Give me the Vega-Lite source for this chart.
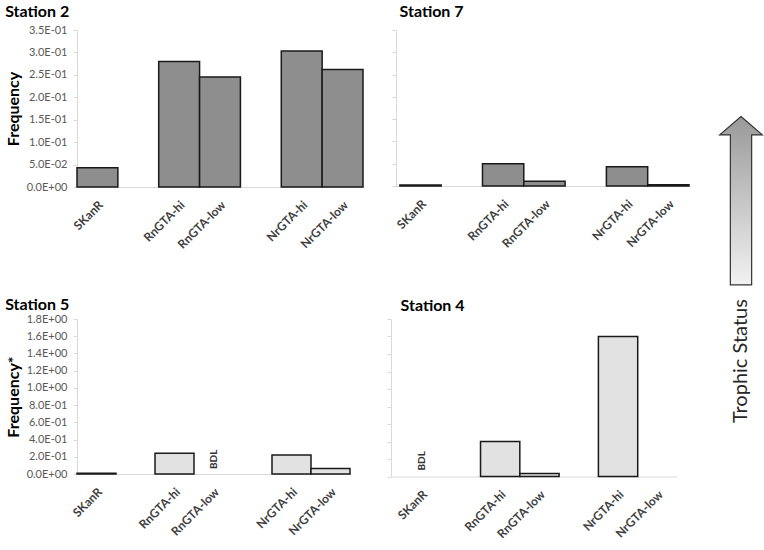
{
  "$schema": "https://vega.github.io/schema/vega-lite/v6.json",
  "padding": {"left": 5, "top": 3, "right": 0, "bottom": 0},
  "background": "white",
  "config": {
    "font": "Lato",
    "view": {"stroke": null},
    "axis": {"grid": false},
    "axisY": {"labelFontSize": 11, "labelColor": "#595959", "labelOverlap": false, "domainColor": "#d9d9d9", "tickColor": "#d9d9d9", "tickSize": 4, "labelPadding": 6, "titleFontSize": 16, "titleFontWeight": "bold", "titleColor": "#000000", "titlePadding": 5},
    "axisX": {"labelAngle": -45, "labelFontSize": 12, "labelFontWeight": "bold", "labelColor": "#404040", "labelOverlap": false, "ticks": false, "tickSize": 0, "domainColor": "#d9d9d9", "labelPadding": 12, "title": null},
    "title": {"fontSize": 16, "fontWeight": "bold", "color": "#000000", "anchor": "start"}
  },
  "datasets": {
    "freq": [
      {"station": "Station 2", "gene": "SKanR", "value": 0.043, "note": null},
      {"station": "Station 2", "gene": "RnGTA-hi", "value": 0.28, "note": null},
      {"station": "Station 2", "gene": "RnGTA-low", "value": 0.245, "note": null},
      {"station": "Station 2", "gene": "NrGTA-hi", "value": 0.303, "note": null},
      {"station": "Station 2", "gene": "NrGTA-low", "value": 0.262, "note": null},
      {"station": "Station 7", "gene": "SKanR", "value": 0.002, "note": null},
      {"station": "Station 7", "gene": "RnGTA-hi", "value": 0.05, "note": null},
      {"station": "Station 7", "gene": "RnGTA-low", "value": 0.0105, "note": null},
      {"station": "Station 7", "gene": "NrGTA-hi", "value": 0.043, "note": null},
      {"station": "Station 7", "gene": "NrGTA-low", "value": 0.003, "note": null},
      {"station": "Station 5", "gene": "SKanR", "value": 0.01, "note": null},
      {"station": "Station 5", "gene": "RnGTA-hi", "value": 0.24, "note": null},
      {"station": "Station 5", "gene": "RnGTA-low", "value": null, "note": "BDL"},
      {"station": "Station 5", "gene": "NrGTA-hi", "value": 0.22, "note": null},
      {"station": "Station 5", "gene": "NrGTA-low", "value": 0.065, "note": null},
      {"station": "Station 4", "gene": "SKanR", "value": null, "note": "BDL"},
      {"station": "Station 4", "gene": "RnGTA-hi", "value": 0.4, "note": null},
      {"station": "Station 4", "gene": "RnGTA-low", "value": 0.034, "note": null},
      {"station": "Station 4", "gene": "NrGTA-hi", "value": 1.6, "note": null},
      {"station": "Station 4", "gene": "NrGTA-low", "value": null, "note": null}
    ]
  },
  "hconcat": [
    {
      "vconcat": [
        {
          "spacing": 27,
          "hconcat": [
            {
              "width": 286, "height": 157,
              "title": {"text": "Station 2", "offset": 4},
              "data": {"name": "freq"},
              "transform": [{"filter": "datum.station == 'Station 2'"}],
              "mark": {"type": "bar", "fill": "#8e8e8e", "stroke": "#1a1a1a", "strokeWidth": 1.5},
              "encoding": {
                "x": {"field": "gene", "type": "nominal", "sort": null,
                      "scale": {"domain": ["SKanR", " ", "RnGTA-hi", "RnGTA-low", "  ", "NrGTA-hi", "NrGTA-low"], "paddingInner": 0, "paddingOuter": 0}},
                "y": {"field": "value", "type": "quantitative",
                      "scale": {"domain": [0, 0.35], "nice": false},
                      "axis": {"title": "Frequency", "labelOverlap": false, "values": [0, 0.05, 0.1, 0.15, 0.2, 0.25, 0.3, 0.35],
                               "labelExpr": "replace(replace(format(datum.value, '.1e'), 'e+', 'E+0'), 'e-', 'E-0')"}}
              }
            },
            {
              "width": 293, "height": 156,
              "title": {"text": "Station 7", "offset": 10, "dx": 8},
              "data": {"name": "freq"},
              "transform": [{"filter": "datum.station == 'Station 7'"}],
              "mark": {"type": "bar", "fill": "#8e8e8e", "stroke": "#1a1a1a", "strokeWidth": 1.5},
              "encoding": {
                "x": {"field": "gene", "type": "nominal", "sort": null,
                      "scale": {"domain": ["SKanR", " ", "RnGTA-hi", "RnGTA-low", "  ", "NrGTA-hi", "NrGTA-low"], "paddingInner": 0, "paddingOuter": 0.047, "align": 1}},
                "y": {"field": "value", "type": "quantitative",
                      "scale": {"domain": [0, 0.35], "nice": false},
                      "axis": {"title": null, "labels": false, "values": [0, 0.05, 0.1, 0.15, 0.2, 0.25, 0.3, 0.35]}}
              }
            }
          ]
        },
        {
          "spacing": 35,
          "hconcat": [
            {
              "width": 273, "height": 155,
              "title": {"text": "Station 5", "offset": 0},
              "data": {"name": "freq"},
              "transform": [{"filter": "datum.station == 'Station 5'"}],
              "encoding": {
                "x": {"field": "gene", "type": "nominal", "sort": null,
                      "scale": {"domain": ["SKanR", " ", "RnGTA-hi", "RnGTA-low", "  ", "NrGTA-hi", "NrGTA-low"], "paddingInner": 0, "paddingOuter": 0}}
              },
              "layer": [
                {
                  "mark": {"type": "bar", "fill": "#e2e2e2", "stroke": "#1a1a1a", "strokeWidth": 1.5},
                  "encoding": {
                    "y": {"field": "value", "type": "quantitative",
                          "scale": {"domain": [0, 1.8], "nice": false},
                          "axis": {"title": "Frequency*", "labelOverlap": false, "values": [0, 0.2, 0.4, 0.6, 0.8, 1.0, 1.2, 1.4, 1.6, 1.8],
                                   "labelExpr": "replace(replace(format(datum.value, '.1e'), 'e+', 'E+0'), 'e-', 'E-0')"}}
                  }
                },
                {
                  "transform": [{"filter": "datum.note != null"}],
                  "mark": {"type": "text", "angle": 270, "align": "left", "baseline": "middle", "fontSize": 10, "fontWeight": "bold", "color": "#333333", "dx": 5},
                  "encoding": {
                    "y": {"datum": 0, "type": "quantitative",
                          "axis": {"title": "Frequency*", "labelOverlap": false, "values": [0, 0.2, 0.4, 0.6, 0.8, 1.0, 1.2, 1.4, 1.6, 1.8],
                                   "labelExpr": "replace(replace(format(datum.value, '.1e'), 'e+', 'E+0'), 'e-', 'E-0')"}},
                    "text": {"field": "note"}
                  }
                }
              ]
            },
            {
              "width": 286, "height": 157.5,
              "title": {"text": "Station 4", "offset": 5, "dx": 14},
              "data": {"name": "freq"},
              "transform": [{"filter": "datum.station == 'Station 4'"}],
              "encoding": {
                "x": {"field": "gene", "type": "nominal", "sort": null,
                      "scale": {"domain": ["SKanR", " ", "RnGTA-hi", "RnGTA-low", "  ", "NrGTA-hi", "NrGTA-low"], "paddingInner": 0, "paddingOuter": 0.139, "align": 1}}
              },
              "layer": [
                {
                  "mark": {"type": "bar", "fill": "#e2e2e2", "stroke": "#1a1a1a", "strokeWidth": 1.5},
                  "encoding": {
                    "y": {"field": "value", "type": "quantitative",
                          "scale": {"domain": [0, 1.8], "nice": false},
                          "axis": {"title": null, "labels": false, "labelOverlap": false, "values": [0, 0.2, 0.4, 0.6, 0.8, 1.0, 1.2, 1.4, 1.6, 1.8]}}
                  }
                },
                {
                  "transform": [{"filter": "datum.note != null"}],
                  "mark": {"type": "text", "angle": 270, "align": "left", "baseline": "middle", "fontSize": 10, "fontWeight": "bold", "color": "#333333", "dx": 6},
                  "encoding": {
                    "y": {"datum": 0, "type": "quantitative",
                          "axis": {"title": null, "labels": false, "labelOverlap": false, "values": [0, 0.2, 0.4, 0.6, 0.8, 1.0, 1.2, 1.4, 1.6, 1.8]}},
                    "text": {"field": "note"}
                  }
                }
              ]
            }
          ]
        }
      ],
      "spacing": 46
    },
    {
      "width": 60, "height": 430,
      "data": {"values": [{"label": "Trophic Status"}]},
      "layer": [
        {
          "mark": {"type": "point", "shape": "M0,-3.95L1,-3.09L0.5,-3.09L0.5,3.95L-0.5,3.95L-0.5,-3.09L-1,-3.09Z", "size": 1815, "filled": true, "opacity": 1,
                   "fill": {"gradient": "linear", "x1": 0, "y1": 0, "x2": 0, "y2": 1, "stops": [{"offset": 0, "color": "#999999"}, {"offset": 1, "color": "#f2f2f2"}]},
                   "stroke": "#333333", "strokeWidth": 1.2},
          "encoding": {
            "y": {"datum": 60.3, "type": "quantitative", "scale": {"domain": [0, 100]}, "axis": null}
          }
        },
        {
          "mark": {"type": "text", "angle": 270, "fontSize": 20, "color": "#262626", "align": "center", "baseline": "middle"},
          "encoding": {
            "y": {"datum": 23.0, "type": "quantitative"},
            "text": {"field": "label"}
          }
        }
      ]
    }
  ],
  "spacing": 21
}
